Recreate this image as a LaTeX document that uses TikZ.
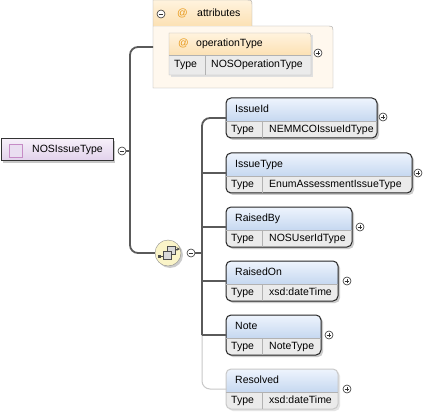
\documentclass[tikz,border=0pt]{standalone}
\usepackage{fontspec}
\setmainfont{Liberation Sans}
\usepackage{xcolor}
\usepackage{tikz}
\usetikzlibrary{arrows,positioning}

\definecolor{hdtop}{HTML}{EEF4FD}
\definecolor{hdbot}{HTML}{C6D8F0}
\definecolor{rowgray}{HTML}{EBEBEB}
\definecolor{attrtop}{HTML}{FFF3DE}
\definecolor{attrbot}{HTML}{FCE1B4}
\definecolor{attrbody}{HTML}{FFF8EE}
\definecolor{atcol}{HTML}{E89A1C}
\definecolor{roottop}{HTML}{F6EFF9}
\definecolor{rootbot}{HTML}{E1D1EB}
\definecolor{seqfill}{HTML}{FAF4C8}
\definecolor{connline}{HTML}{5A5A5A}
\definecolor{optline}{HTML}{C8C8C8}

\begin{document}
\begin{tikzpicture}[x=1pt, y=-1pt, font=\fontsize{10.5}{12}\selectfont,
	lbl/.style={anchor=west, inner sep=0, text height=7.5, text depth=2},
	conn/.style={draw=connline, line width=1.8},
	optconn/.style={draw=optline, line width=1},
	shadowbox/.style={fill=black!20, rounded corners=5},
	elemborder/.style={draw=black!85, line width=1, rounded corners=5},
	divider/.style={draw=black!30, line width=0.6},
	toggle/.style={circle, draw=black!80, fill=white, line width=0.6, minimum size=8, inner sep=0},
	collapse/.style={toggle, path picture={\draw[line width=0.8] ([xshift=-2.3]path picture bounding box.center) -- ([xshift=2.3]path picture bounding box.center);}},
	expand/.style={toggle, path picture={\draw[line width=0.8] ([xshift=-2.3]path picture bounding box.center) -- ([xshift=2.3]path picture bounding box.center) ([yshift=-2.3]path picture bounding box.center) -- ([yshift=2.3]path picture bounding box.center);}}]
	\useasboundingbox [fill=white] (0,0) rectangle (428,414);
	
	% root type
	\fill [black!22] (3,141) rectangle (115,163);
	\shade [top color=roottop, bottom color=rootbot, draw=black!80, line width=1] (1,139) rectangle (113,161);
	\draw [fill=rootbot!70, draw=violet!45] (9,144) rectangle (22,157);
	\node [lbl] (root) at (32,150) {NOSIssueType};
	\node [collapse] (rootminus) at (122,151) {};
	
	% attributes
	\path [fill=attrbody, draw=black!35] (153,26) -- (326,26) .. controls (333,26) .. (333,33) -- (333,88) -- (153,88) -- cycle;
	\fill [attrtop] (153,26) -- (153,0) -- (246,0) .. controls (252,0) .. (252,6) -- (252,26) -- cycle;
	\shade [top color=attrtop, bottom color=attrbot] (153,26) -- (153,0) -- (246,0) .. controls (252,0) .. (252,6) -- (252,26) -- cycle;
	\draw [black!35] (153,26) -- (153,0) -- (246,0) .. controls (252,0) .. (252,6) -- (252,26);
	\node [collapse] (attrminus) at (161,14) {};
	\node [lbl, text=atcol] at (177,14) {@};
	\node [lbl] (attr) at (197,14) {attributes};
	\coordinate (attr-w) at (153,47);
	
	\fill [black!12] (171,35) rectangle (313,77);
	\shade [top color=attrtop, bottom color=attrbot] (169,55) -- (169,33) -- (305,33) .. controls (311,33) .. (311,39) -- (311,55) -- cycle;
	\fill [rowgray] (169,55) rectangle (311,75);
	\draw [black!30] (169,75) -- (169,33) -- (305,33) .. controls (311,33) .. (311,39) -- (311,75) -- cycle;
	\draw [divider] (169,55) -- (311,55) (205,55) -- (205,75);
	\node [lbl, text=atcol] at (178,44) {@};
	\node [lbl] (optype) at (196,44) {operationType};
	\node [lbl] at (174,65) {Type};
	\node [lbl] at (211,65) {NOSOperationType};
	\node [expand] (optypeplus) at (318,53) {};
	
	% sequence
	\fill [black!20] (170,255) circle (13);
	\node [circle, draw=black!45, fill=seqfill, minimum size=26, inner sep=0] (seq) at (168,253) {};
	\draw [black!70, line width=0.6] (160,256) -- (163,256);
	\fill [black!70] (158,254.5) rectangle (160.5,257.5);
	\draw [fill=black!15, draw=black!70, line width=0.6] (167,246) rectangle (175,254);
	\draw [fill=black!15, draw=black!70, line width=0.6] (163,251) rectangle (171,259);
	\draw [black!70, line width=0.6, -stealth] (175,249) -- (180,249);
	\node [collapse] (seqminus) at (191,253) {};
	
	% IssueId
	\fill [shadowbox] (228,100) rectangle (379,140);
	\begin{scope}
		\clip [rounded corners=5] (226,98) rectangle (377,138);
		\shade [top color=hdtop, bottom color=hdbot] (226,98) rectangle (377,121);
		\fill [rowgray] (226,121) rectangle (377,138);
	\end{scope}
	\draw [elemborder] (226,98) rectangle (377,138);
	\draw [divider] (226,121) -- (377,121) (262,121) -- (262,138);
	\node [lbl] (issueid) at (235,110) {IssueId};
	\node [lbl] at (231,130) {Type};
	\node [lbl] at (269,130) {NEMMCOIssueIdType};
	\node [expand] (issueidplus) at (383,117) {};
	\coordinate (issueid-w) at (226,118);
	
	% IssueType
	\fill [shadowbox] (228,155) rectangle (414,195);
	\begin{scope}
		\clip [rounded corners=5] (226,153) rectangle (412,193);
		\shade [top color=hdtop, bottom color=hdbot] (226,153) rectangle (412,176);
		\fill [rowgray] (226,176) rectangle (412,193);
	\end{scope}
	\draw [elemborder] (226,153) rectangle (412,193);
	\draw [divider] (226,176) -- (412,176) (262,176) -- (262,193);
	\node [lbl] (issuetype) at (235,165) {IssueType};
	\node [lbl] at (231,185) {Type};
	\node [lbl] at (269,185) {EnumAssessmentIssueType};
	\node [expand] (issuetypeplus) at (418,173) {};
	\coordinate (issuetype-w) at (226,173);
	
	% RaisedBy
	\fill [shadowbox] (228,209) rectangle (354,249);
	\begin{scope}
		\clip [rounded corners=5] (226,207) rectangle (352,247);
		\shade [top color=hdtop, bottom color=hdbot] (226,207) rectangle (352,230);
		\fill [rowgray] (226,230) rectangle (352,247);
	\end{scope}
	\draw [elemborder] (226,207) rectangle (352,247);
	\draw [divider] (226,230) -- (352,230) (262,230) -- (262,247);
	\node [lbl] (raisedby) at (235,219) {RaisedBy};
	\node [lbl] at (231,239) {Type};
	\node [lbl] at (269,239) {NOSUserIdType};
	\node [expand] (raisedbyplus) at (360,227) {};
	\coordinate (raisedby-w) at (226,227);
	
	% RaisedOn
	\fill [shadowbox] (228,263) rectangle (340,303);
	\begin{scope}
		\clip [rounded corners=5] (226,261) rectangle (338,301);
		\shade [top color=hdtop, bottom color=hdbot] (226,261) rectangle (338,284);
		\fill [rowgray] (226,284) rectangle (338,301);
	\end{scope}
	\draw [elemborder] (226,261) rectangle (338,301);
	\draw [divider] (226,284) -- (338,284) (262,284) -- (262,301);
	\node [lbl] (raisedon) at (235,273) {RaisedOn};
	\node [lbl] at (231,293) {Type};
	\node [lbl] at (269,293) {xsd:dateTime};
	\node [expand] (raisedonplus) at (347,281) {};
	\coordinate (raisedon-w) at (226,281);
	
	% Note
	\fill [shadowbox] (228,317) rectangle (323,357);
	\begin{scope}
		\clip [rounded corners=5] (226,315) rectangle (321,355);
		\shade [top color=hdtop, bottom color=hdbot] (226,315) rectangle (321,338);
		\fill [rowgray] (226,338) rectangle (321,355);
	\end{scope}
	\draw [elemborder] (226,315) rectangle (321,355);
	\draw [divider] (226,338) -- (321,338) (262,338) -- (262,355);
	\node [lbl] (note) at (235,327) {Note};
	\node [lbl] at (231,347) {Type};
	\node [lbl] at (269,347) {NoteType};
	\node [expand] (noteplus) at (329,335) {};
	\coordinate (note-w) at (226,335);
	
	% Resolved (optional)
	\fill [shadowbox, black!10] (228,371) rectangle (340,411);
	\begin{scope}
		\clip [rounded corners=5] (226,369) rectangle (338,409);
		\shade [top color=hdtop, bottom color=hdbot] (226,369) rectangle (338,392);
		\fill [rowgray] (226,392) rectangle (338,409);
	\end{scope}
	\draw [elemborder, draw=optline] (226,369) rectangle (338,409);
	\draw [divider] (226,392) -- (338,392) (262,392) -- (262,409);
	\node [lbl] (resolved) at (235,381) {Resolved};
	\node [lbl] at (231,401) {Type};
	\node [lbl] at (269,401) {xsd:dateTime};
	\node [expand] (resolvedplus) at (347,389) {};
	\coordinate (resolved-w) at (226,389);
	
	% connectors
	\coordinate (rootspine) at (130,151);
	\coordinate (spine) at (202,335);
	\draw [conn] (rootminus.east) -- (rootspine);
	\draw [conn, rounded corners=8] (seq.west) -| (rootspine) |- (attr-w);
	\draw [conn] (seqminus.east) -- (seqminus.east -| spine);
	\draw [optconn, rounded corners=8] (spine) |- (resolved-w);
	\draw [conn, rounded corners=8] (issueid-w) -| (spine);
	\draw [conn] (spine |- issuetype-w) -- (issuetype-w);
	\draw [conn] (spine |- raisedby-w) -- (raisedby-w);
	\draw [conn] (spine |- raisedon-w) -- (raisedon-w);
	\draw [conn] (spine) -- (note-w);
\end{tikzpicture}
\end{document}
